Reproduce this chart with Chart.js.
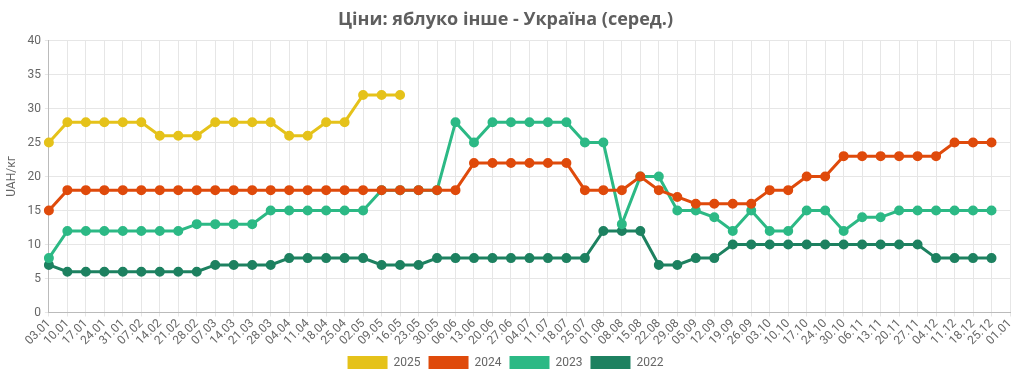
<!DOCTYPE html>
<html>
<head>
<meta charset="utf-8">
<script src="https://cdn.jsdelivr.net/npm/chart.js@4/dist/chart.umd.min.js"></script>
<style>
html,body{margin:0;padding:0;background:#fff;}
#wrap{width:1024px;height:379px;position:relative;}
</style>
</head>
<body>
<div id="wrap"><canvas id="c"></canvas></div>
<script>
const labels = ["03.01","10.01","17.01","24.01","31.01","07.02","14.02","21.02","28.02","07.03","14.03","21.03","28.03","04.04","11.04","18.04","25.04","02.05","09.05","16.05","23.05","30.05","06.06","13.06","20.06","27.06","04.07","11.07","18.07","25.07","01.08","08.08","15.08","22.08","29.08","05.09","12.09","19.09","26.09","03.10","10.10","17.10","24.10","30.10","06.11","13.11","20.11","27.11","04.12","11.12","18.12","25.12","01.01"];
const y2025 = [25,28,28,28,28,28,26,26,26,28,28,28,28,26,26,28,28,32,32,32];
const y2024 = [15,18,18,18,18,18,18,18,18,18,18,18,18,18,18,18,18,18,18,18,18,18,18,22,22,22,22,22,22,18,18,18,20,18,17,16,16,16,16,18,18,20,20,23,23,23,23,23,23,25,25,25];
const y2023 = [8,12,12,12,12,12,12,12,13,13,13,13,15,15,15,15,15,15,18,18,18,18,28,25,28,28,28,28,28,25,25,13,20,20,15,15,14,12,15,12,12,15,15,12,14,14,15,15,15,15,15,15];
const y2022 = [7,6,6,6,6,6,6,6,6,7,7,7,7,8,8,8,8,8,7,7,7,8,8,8,8,8,8,8,8,8,12,12,12,7,7,8,8,10,10,10,10,10,10,10,10,10,10,10,8,8,8,8];
const seriesNames = ["2025","2024","2023","2022"];
const colors = ["#e5c21a","#df4a0b","#2cb985","#1d8160"];
const values = [y2025,y2024,y2023,y2022];

const datasets = seriesNames.map((n,i)=>({
  label:n,
  data:values[i],
  borderColor:colors[i],
  backgroundColor:colors[i],
  borderWidth:3,
  pointRadius:3.5,
  pointBackgroundColor:colors[i],
  pointBorderColor:colors[i],
  tension:0,
  fill:false
}));

Chart.defaults.font.family = "Roboto, 'Liberation Sans', sans-serif";
Chart.defaults.color = "#666";

new Chart(document.getElementById('c'),{
  type:'line',
  data:{labels:labels,datasets:datasets},
  options:{
    responsive:true,
    maintainAspectRatio:false,
    animation:false,
    devicePixelRatio:1,
    layout:{padding:{left:1,right:14,top:0,bottom:0}},
    plugins:{
      title:{display:true,text:"Ціни: яблуко інше - Україна (серед.)",color:"#5f5f5f",
        font:{family:"'Open Sans', sans-serif",size:18,weight:'bold'},padding:{top:9,bottom:10}},
      legend:{position:'bottom',labels:{boxWidth:40,boxHeight:13,font:{size:12},color:"#666",padding:8,
        generateLabels:(chart)=>Chart.defaults.plugins.legend.labels.generateLabels(chart).map(l=>Object.assign(l,{lineWidth:0}))}},
      tooltip:{enabled:false}
    },
    scales:{
      x:{
        grid:{color:"#e6e6e6",drawTicks:true,tickLength:4},
        border:{color:"#bbb"},
        ticks:{autoSkip:false,maxRotation:45,minRotation:45,font:{size:12},color:"#666",padding:0}
      },
      y:{
        min:0,max:40,
        grid:{color:"#e6e6e6",tickLength:4},
        border:{color:"#bbb"},
        ticks:{stepSize:5,font:{size:12},color:"#666",padding:4},
        title:{display:true,text:"UAH/кг",font:{size:12},color:"#666",padding:4}
      }
    }
  }
});
</script>
</body>
</html>
